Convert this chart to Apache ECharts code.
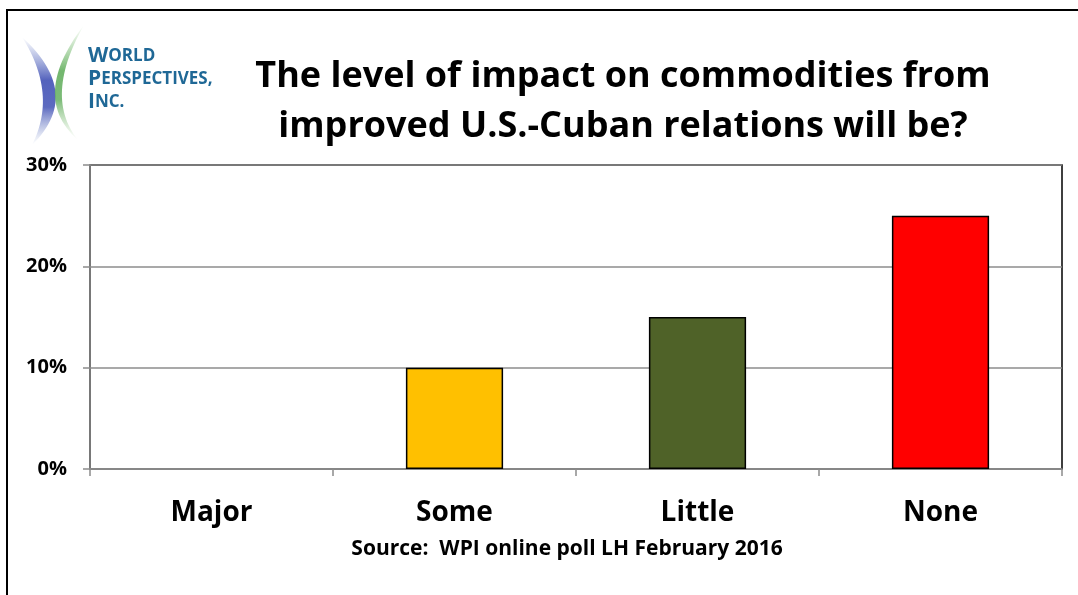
<!DOCTYPE html>
<html>
<head>
<meta charset="utf-8">
<script src="https://cdn.jsdelivr.net/npm/echarts@6/dist/echarts.min.js"></script>
<style>
html,body{margin:0;padding:0;background:#fff;}
#chart{width:1078px;height:595px;}
</style>
</head>
<body>
<div id="chart"></div>
<script>
// ---- data ----
const categories = ['Major', 'Some', 'Little', 'None'];
const values = [0, 10, 15, 25];           // percent
const yTicks = [0, 10, 20, 30];           // percent tick labels
const titleLines = ['The level of impact on commodities from', 'improved U.S.-Cuban relations will be?'];
const sourceText = 'Source:  WPI online poll LH February 2016';

// ---- styles ----
const barColors = ['#FFC000', '#FFC000', '#4F6228', '#FF0000'];
const FONT = '"Open Sans", "Noto Sans", sans-serif';
const LOGO_COLOR = '#1f6896';

const chart = echarts.init(document.getElementById('chart'), null, {renderer: 'canvas'});

const barData = values.map((v, i) => ({
  value: v,
  itemStyle: {color: barColors[i], borderColor: '#000', borderWidth: v > 0 ? 1.5 : 0}
}));

// crescent outline from two quadratic curves (logo decoration)
function crescent(p0, cOuter, p1, cInner) {
  const pts = [];
  const N = 30;
  for (let i = 0; i <= N; i++) {
    const t = i / N, u = 1 - t;
    pts.push([u*u*p0[0] + 2*u*t*cOuter[0] + t*t*p1[0], u*u*p0[1] + 2*u*t*cOuter[1] + t*t*p1[1]]);
  }
  for (let i = N; i >= 0; i--) {
    const t = i / N, u = 1 - t;
    pts.push([u*u*p0[0] + 2*u*t*cInner[0] + t*t*p1[0], u*u*p0[1] + 2*u*t*cInner[1] + t*t*p1[1]]);
  }
  return pts;
}

const blueGrad = new echarts.graphic.LinearGradient(0, 0, 0, 1, [
  {offset: 0, color: 'rgba(110,130,200,0)'},
  {offset: 0.4, color: 'rgba(75,90,185,0.95)'},
  {offset: 0.65, color: 'rgba(75,90,185,0.9)'},
  {offset: 1, color: 'rgba(140,160,210,0)'}
]);
const greenGrad = new echarts.graphic.LinearGradient(0, 0, 0, 1, [
  {offset: 0, color: 'rgba(130,195,120,0)'},
  {offset: 0.4, color: 'rgba(100,175,95,0.9)'},
  {offset: 0.65, color: 'rgba(100,175,95,0.85)'},
  {offset: 1, color: 'rgba(160,205,150,0)'}
]);

const logoRich = {
  a: {fontFamily: 'Open Sans', fontWeight: 'bold', fontSize: 21, fill: LOGO_COLOR, color: LOGO_COLOR},
  b: {fontFamily: 'Open Sans', fontWeight: 'bold', fontSize: 17, fill: LOGO_COLOR, color: LOGO_COLOR}
};

const option = {
  backgroundColor: '#fff',
  animation: false,
  grid: {left: 90, right: 16, top: 165, bottom: 126, show: true, borderColor: '#000', borderWidth: 1.5, backgroundColor: 'transparent'},
  xAxis: {
    type: 'category',
    data: categories,
    axisLine: {lineStyle: {color: '#8c8c8c', width: 1.5}},
    axisTick: {show: true, length: 7, alignWithLabel: false, lineStyle: {color: '#8c8c8c', width: 1.5}},
    axisLabel: {color: '#000', fontFamily: FONT, fontWeight: 'bold', fontSize: 28, margin: 30}
  },
  yAxis: {
    type: 'value',
    min: yTicks[0],
    max: yTicks[yTicks.length - 1],
    interval: yTicks[1] - yTicks[0],
    axisLine: {show: true, lineStyle: {color: '#8c8c8c', width: 1.5}},
    axisTick: {show: true, length: 7, lineStyle: {color: '#8c8c8c', width: 1.5}},
    splitLine: {show: true, lineStyle: {color: '#8c8c8c', width: 1.5}},
    axisLabel: {color: '#000', fontFamily: FONT, fontWeight: 'bold', fontSize: 20, margin: 23, formatter: '{value}%'}
  },
  series: [{
    type: 'bar',
    data: barData,
    barWidth: '40%'
  }],
  graphic: [
    {type: 'polyline', shape: {points: [[7, 595], [7, 10], [1078, 10]]}, style: {stroke: '#000', lineWidth: 2, fill: null}, z: 100},
    {type: 'text', x: 623, y: 77, style: {text: titleLines[0], align: 'center', verticalAlign: 'middle', fontFamily: FONT, fontWeight: 'bold', fontSize: 36, fill: '#000'}},
    {type: 'text', x: 623, y: 127, style: {text: titleLines[1], align: 'center', verticalAlign: 'middle', fontFamily: FONT, fontWeight: 'bold', fontSize: 36, fill: '#000'}},
    {type: 'text', x: 567, y: 549, style: {text: sourceText, align: 'center', verticalAlign: 'middle', fontFamily: FONT, fontWeight: 'bold', fontSize: 21, fill: '#000'}},
    {type: 'polygon', shape: {points: crescent([22, 37], [84, 94], [32, 145], [58, 94])}, style: {fill: blueGrad}},
    {type: 'polygon', shape: {points: crescent([84, 25], [29, 97], [78, 140], [43, 97])}, style: {fill: greenGrad}},
    {type: 'text', x: 88, y: 56, style: {text: '{a|W}{b|ORLD}', verticalAlign: 'middle', fill: LOGO_COLOR, rich: logoRich}},
    {type: 'text', x: 88, y: 79, style: {text: '{a|P}{b|ERSPECTIVES,}', verticalAlign: 'middle', fill: LOGO_COLOR, rich: logoRich}},
    {type: 'text', x: 88, y: 102, style: {text: '{a|I}{b|NC.}', verticalAlign: 'middle', fill: LOGO_COLOR, rich: logoRich}}
  ]
};
chart.setOption(option);
</script>
</body>
</html>
